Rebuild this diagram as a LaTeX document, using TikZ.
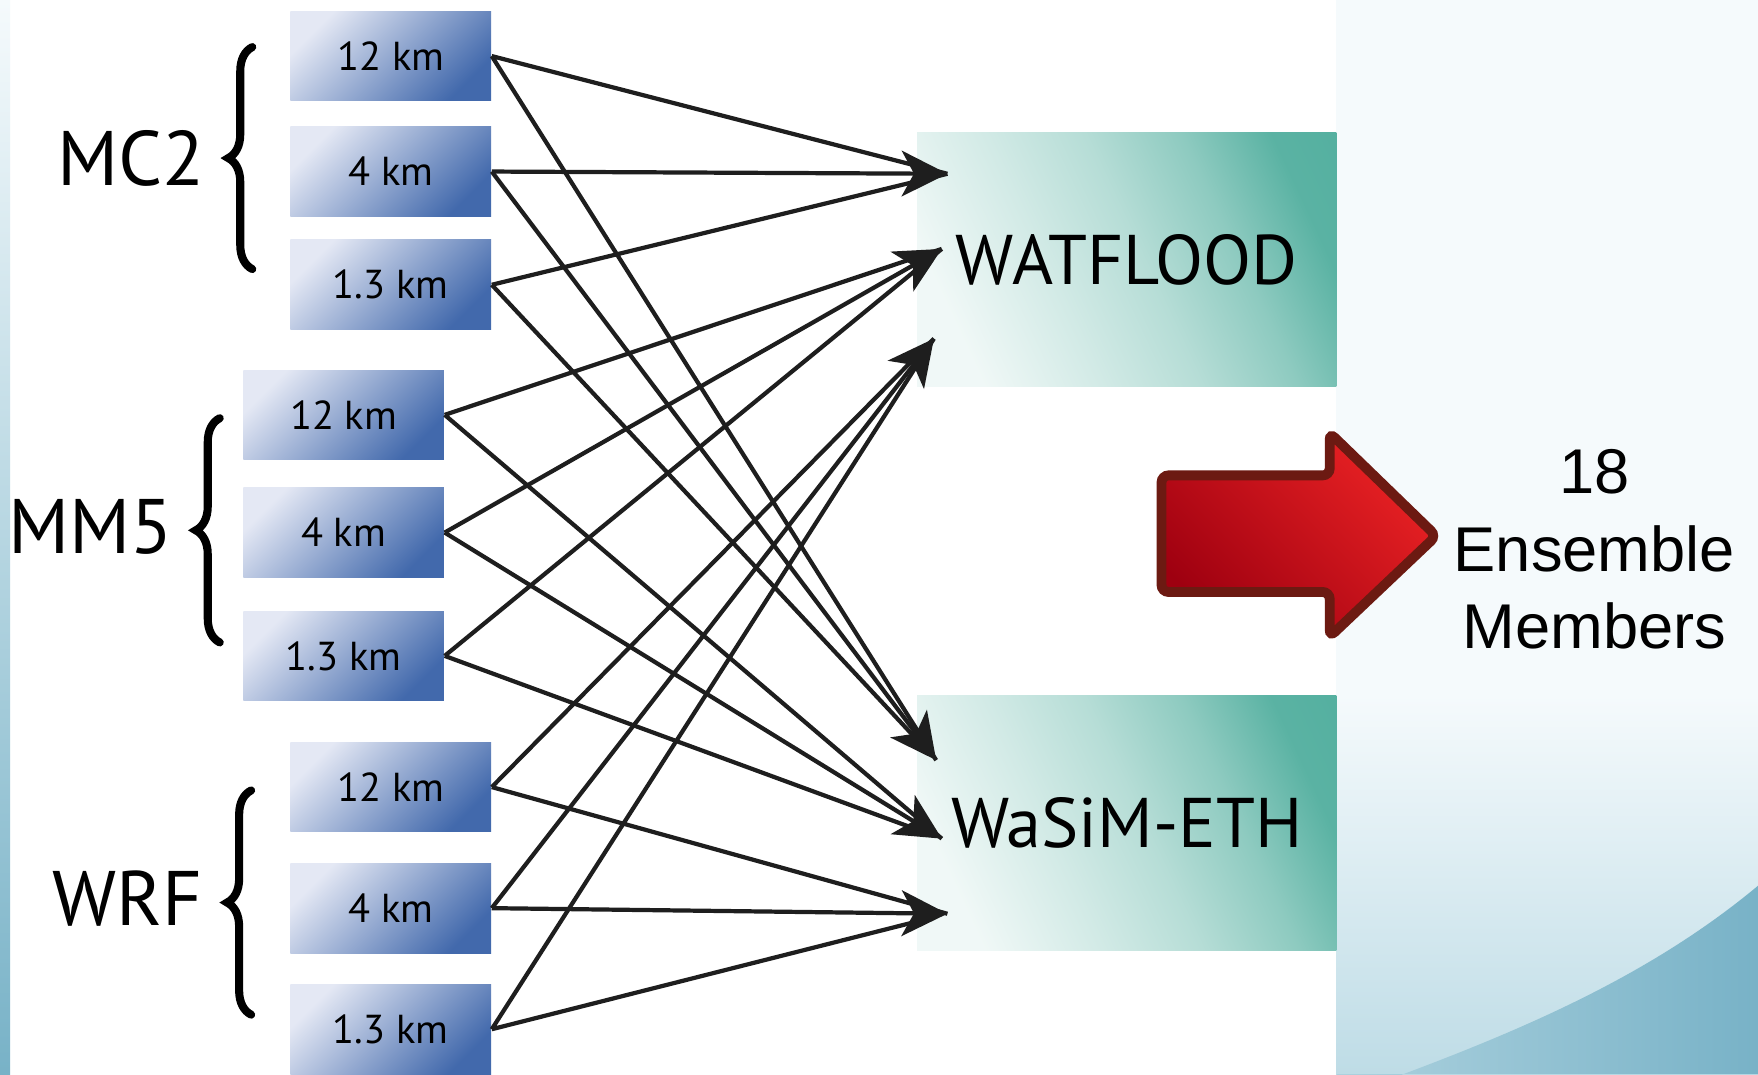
\documentclass[tikz,border=0pt]{standalone}
\usepackage{fontspec}
\setmainfont{PT Sans}
\newfontfamily\arialfont{Liberation Sans}
\usetikzlibrary{arrows.meta,decorations.pathreplacing}
\definecolor{boxlight}{RGB}{228,232,244}
\definecolor{boxdark}{RGB}{66,105,172}
\definecolor{modteal}{RGB}{72,170,153}
\definecolor{arrowred}{RGB}{234,34,36}
\definecolor{arrowdeep}{RGB}{158,0,16}
\definecolor{arrowrim}{RGB}{108,26,18}
\definecolor{wirecol}{RGB}{30,30,30}
\definecolor{slidepale}{RGB}{245,250,252}
\definecolor{slideblue}{RGB}{190,220,230}
\definecolor{slidewave}{RGB}{120,178,199}
\pgfdeclarehorizontalshading{tealfade}{100bp}{color(0bp)=(modteal!8); color(25bp)=(modteal!8); color(40bp)=(modteal!25); color(52bp)=(modteal!40); color(64bp)=(modteal!62); color(75bp)=(modteal!90); color(100bp)=(modteal)}

\begin{document}
\begin{tikzpicture}[x=0.011212cm,y=-0.011212cm,>={Stealth[length=13pt,width=13pt,inset=3.5pt]},
  res/.style={left color=boxlight,right color=boxdark,shading angle=45,minimum width=2.007cm,minimum height=0.897cm,inner sep=0pt,font=\fontsize{11.5}{14}\selectfont},
  hydro/.style={shade,shading=tealfade,shading angle=25,minimum width=4.193cm,minimum height=2.545cm,inner sep=0pt,font=\fontsize{20}{24}\selectfont},
  wire/.style={wirecol,line width=1.2pt},
  grp/.style={font=\fontsize{22}{26}\selectfont,anchor=east,inner sep=0pt},
  brc/.style={decorate,decoration={brace,amplitude=0.24cm},line width=2.3pt,line cap=round}]
  \useasboundingbox (0,0) rectangle (1568,958);
  % slide background
  \fill[white] (0,0) rectangle (1192,958);
  \fill[slidepale] (1192,0) rectangle (1568,620);
  \shade[top color=slidepale,bottom color=slideblue] (1192,620) rectangle (1568,958);
  \shade[left color=slideblue!75!slidewave,right color=slidewave] (1192,980) .. controls (1330,930) and (1460,880) .. (1568,790) -- (1568,958) -- (1192,958) -- cycle;
  \shade[top color=slidepale,bottom color=slidewave] (0,0) rectangle (9,958);

  % model resolutions
  \node[res] (mc2a) at (348.5,50) {12 km};
  \node[res] (mc2b) at (348.5,153) {4 km};
  \node[res] (mc2c) at (348.5,254) {1.3 km};
  \node[res] (mm5a) at (306.5,370) {12 km};
  \node[res] (mm5b) at (306.5,475) {4 km};
  \node[res] (mm5c) at (306.5,585) {1.3 km};
  \node[res] (wrfa) at (348.5,702) {12 km};
  \node[res] (wrfb) at (348.5,810) {4 km};
  \node[res] (wrfc) at (348.5,918) {1.3 km};

  \node[grp] (mc2) at (183,141) {MC2};
  \node[grp] (mm5) at (155,470) {MM5};
  \node[grp] (wrf) at (181,801) {WRF};
  \draw[brc] (225,240) -- (225,42);
  \draw[brc] (196,573) -- (196,373);
  \draw[brc] (224,905) -- (224,705);

  % hydrological models
  \node[hydro] (wat) at (1005,231.5) {WATFLOOD};
  \node[hydro] (wasim) at (1005,734) {WaSiM-ETH};
  \coordinate (w1) at (845,155);
  \coordinate (w2) at (840,222);
  \coordinate (w3) at (833,302);
  \coordinate (s1) at (835,678);
  \coordinate (s2) at (840,748);
  \coordinate (s3) at (845,815);

  \draw[wire,shorten >=4pt] (mc2a.east) -- (w1) (mc2c.east) -- (w1) (mc2a.east) -- (s1) (mc2c.east) -- (s1);
  \draw[wire,shorten >=4pt] (mm5a.east) -- (w2) (mm5c.east) -- (w2) (mm5a.east) -- (s2) (mm5c.east) -- (s2);
  \draw[wire,shorten >=4pt] (wrfa.east) -- (w3) (wrfc.east) -- (w3) (wrfa.east) -- (s3) (wrfc.east) -- (s3);
  \draw[wire,->] (mc2b.east) -- (w1);
  \draw[wire,->] (mc2b.east) -- (s1);
  \draw[wire,->] (mm5b.east) -- (w2);
  \draw[wire,->] (mm5b.east) -- (s2);
  \draw[wire,->] (wrfb.east) -- (w3);
  \draw[wire,->] (wrfb.east) -- (s3);

  % result
  \shadedraw[draw=arrowrim,line width=2.8pt,rounded corners=2pt,left color=arrowdeep,right color=arrowred,shading angle=135]
    (1036,424) -- (1186,424) -- (1186,386) -- (1281,478) -- (1186,568) -- (1186,528) -- (1036,528) -- cycle;
  \node[font=\arialfont\fontsize{18}{22}\selectfont,align=center] (members) at (1422,490) {18\\Ensemble\\Members};
\end{tikzpicture}
\end{document}
